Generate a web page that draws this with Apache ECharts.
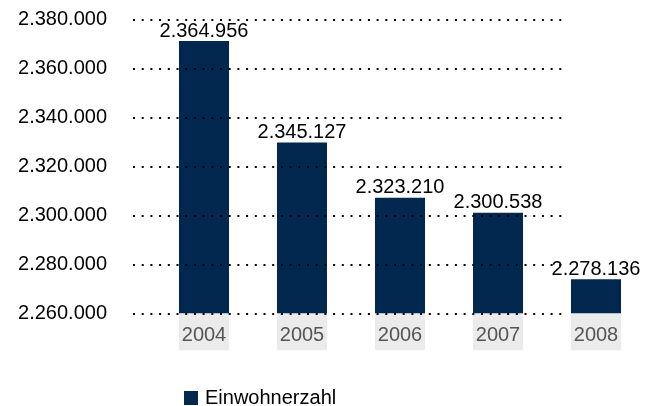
<!DOCTYPE html>
<html>
<head>
<meta charset="utf-8">
<script src="https://cdn.jsdelivr.net/npm/echarts@6/dist/echarts.min.js"></script>
<style>html,body{margin:0;padding:0;background:#fff}#c{width:650px;height:406px}</style>
</head>
<body>
<div id="c"></div>
<script>
// Data
const years = ['2004', '2005', '2006', '2007', '2008'];
// bar heights as drawn in the picture
const einwohnerzahl = [2371200, 2329800, 2307200, 2301100, 2273900];
// values printed above the bars
const barLabels = ['2.364.956', '2.345.127', '2.323.210', '2.300.538', '2.278.136'];
const seriesName = 'Einwohnerzahl';
const yMin = 2260000, yMax = 2380000, yStep = 20000;

function fmtDE(v) {
  return String(Math.round(v)).replace(/\B(?=(\d{3})+(?!\d))/g, '.');
}

const font = '"Liberation Sans", Arial, Helvetica, sans-serif';
const chart = echarts.init(document.getElementById('c'), null, {renderer: 'canvas'});
chart.setOption({
  animation: false,
  textStyle: {fontFamily: font},
  grid: [
    {left: 133, right: 85, top: 19.5, bottom: 92.7},
    {left: 155, right: 5, top: 19.5, bottom: 92.7}
  ],
  legend: {
    data: [seriesName],
    left: 179, top: 383,
    icon: 'rect', itemWidth: 14, itemHeight: 14, itemGap: 10,
    textStyle: {fontSize: 20, color: '#000', fontFamily: font, padding: [0, 0, 0, 2]}
  },
  xAxis: [
    {gridIndex: 0, type: 'category', data: years, show: false},
    {
      gridIndex: 1, type: 'category', data: years,
      axisLine: {show: false}, axisTick: {show: false},
      axisLabel: {
        margin: 0, fontSize: 20, color: '#555', fontFamily: font,
        backgroundColor: '#ebebeb', width: 50, height: 29, lineHeight: 29,
        padding: [8, 0, 0, 0], align: 'center', verticalAlign: 'top'
      }
    }
  ],
  yAxis: [
    {
      gridIndex: 0, type: 'value', min: yMin, max: yMax, interval: yStep, z: 5,
      axisLine: {show: false}, axisTick: {show: false},
      axisLabel: {margin: 26, fontSize: 20, color: '#000', fontFamily: font, formatter: fmtDE, padding: [3, 0, 0, 0]},
      splitLine: {show: true, lineStyle: {color: '#000', width: 2, type: [2, 6.7]}}
    },
    {
      gridIndex: 1, type: 'value', min: yMin, max: yMax, interval: yStep,
      show: false, splitLine: {show: false}
    }
  ],
  series: [{
    name: seriesName, type: 'bar', xAxisIndex: 1, yAxisIndex: 1,
    data: einwohnerzahl, barWidth: 50,
    itemStyle: {color: '#02284f'},
    label: {
      show: true, position: 'top', distance: 0, fontSize: 20, color: '#000', fontFamily: font,
      formatter: p => barLabels[p.dataIndex]
    }
  }]
});
</script>
</body>
</html>
